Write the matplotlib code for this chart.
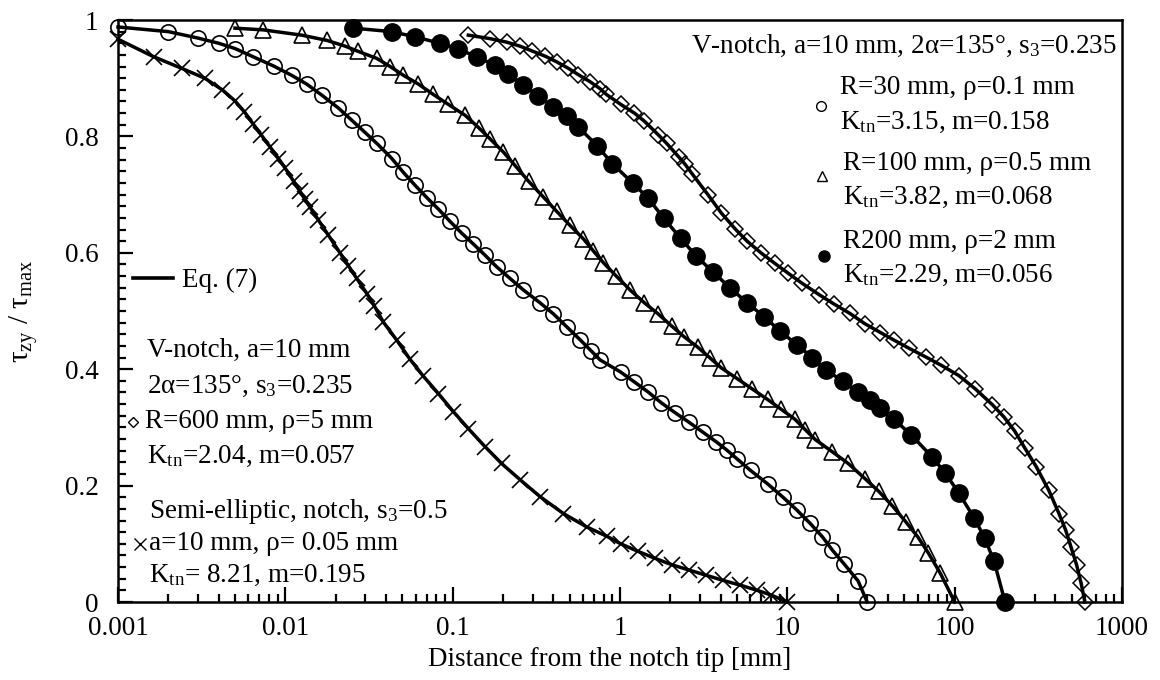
import matplotlib

matplotlib.use("Agg")

import matplotlib.pyplot as plt
from matplotlib.ticker import FixedLocator, NullFormatter

plt.rcParams["font.family"] = ["Liberation Serif", "DejaVu Serif"]
plt.rcParams["mathtext.fontset"] = "custom"
plt.rcParams["mathtext.rm"] = "Liberation Serif"
plt.rcParams["mathtext.default"] = "regular"

FS = 19.5

# Semi-elliptic notch, a=10 mm, rho=0.05 mm (crosses)
semi_x = [0.001, 0.00163, 0.0024, 0.0033, 0.0042, 0.0050, 0.0057, 0.0064, 0.0072,
          0.0081, 0.0091, 0.0100, 0.0112, 0.0122, 0.0131, 0.0140, 0.0157, 0.0181,
          0.0212, 0.0238, 0.0267, 0.0307, 0.0340, 0.0385, 0.0463, 0.0556, 0.0668,
          0.0822, 0.101, 0.124, 0.156, 0.196, 0.253, 0.333, 0.459, 0.632, 0.834,
          1.01, 1.28, 1.62, 2.04, 2.58, 3.27, 4.14, 5.23, 6.61, 8.0, 10.0]
semi_y = [0.967, 0.937, 0.917, 0.900, 0.880, 0.861, 0.842, 0.822, 0.802,
          0.782, 0.762, 0.745, 0.723, 0.706, 0.692, 0.679, 0.657, 0.630,
          0.600, 0.578, 0.556, 0.530, 0.509, 0.481, 0.450, 0.417, 0.388,
          0.358, 0.327, 0.298, 0.267, 0.238, 0.210, 0.181, 0.152, 0.129, 0.113,
          0.100, 0.087, 0.075, 0.064, 0.055, 0.046, 0.037, 0.029, 0.020, 0.012, 0.0]

# V-notch R=30 mm, rho=0.1 mm (open circles)
r30_x = [0.001, 0.002, 0.0030, 0.0040, 0.0050, 0.0064, 0.0085, 0.0109, 0.0134,
         0.0165, 0.0207, 0.0249, 0.0299, 0.0352, 0.0433, 0.0508, 0.0596, 0.0700,
         0.0822, 0.0964, 0.113, 0.133, 0.156, 0.183, 0.220, 0.265, 0.333, 0.400,
         0.48, 0.58, 0.67, 0.76, 1.01, 1.22, 1.47, 1.77, 2.14, 2.58, 3.12, 3.77,
         4.35, 5.0, 6.03, 7.62, 9.42, 11.4, 13.7, 16.2, 18.6, 21.9, 26.5, 30.0]
r30_y = [0.988, 0.980, 0.969, 0.960, 0.951, 0.937, 0.921, 0.905, 0.890,
         0.871, 0.849, 0.828, 0.807, 0.788, 0.762, 0.738, 0.716, 0.695,
         0.675, 0.654, 0.634, 0.615, 0.596, 0.576, 0.556, 0.536, 0.514, 0.495,
         0.473, 0.450, 0.432, 0.416, 0.395, 0.378, 0.361, 0.342, 0.325, 0.309, 0.292, 0.275,
         0.261, 0.246, 0.226, 0.203, 0.180, 0.158, 0.135, 0.112, 0.089, 0.065, 0.036, 0.0]

# V-notch R=100 mm, rho=0.5 mm (open triangles)
r100_x = [0.0050, 0.0074, 0.0125, 0.0177, 0.0228, 0.0273, 0.0352, 0.0423, 0.0508,
          0.0623, 0.0767, 0.0942, 0.119, 0.143, 0.167, 0.201, 0.236, 0.284, 0.348,
          0.419, 0.503, 0.604, 0.694, 0.796, 0.95, 1.15, 1.40, 1.69, 2.04, 2.41,
          2.91, 3.43, 4.04, 5.0, 6.17, 7.62, 9.2, 11.1, 12.8, 14.7, 18.6, 23.1,
          29.1, 35.2, 42.5, 51.3, 60.5, 69.7, 82.2, 100.0]
r100_y = [0.986, 0.983, 0.974, 0.965, 0.955, 0.946, 0.934, 0.920, 0.905,
          0.890, 0.872, 0.855, 0.836, 0.815, 0.796, 0.773, 0.750, 0.723, 0.696,
          0.671, 0.647, 0.624, 0.603, 0.583, 0.560, 0.536, 0.514, 0.495, 0.474, 0.456,
          0.438, 0.420, 0.402, 0.384, 0.366, 0.348, 0.331, 0.314, 0.296, 0.279, 0.258, 0.238,
          0.212, 0.190, 0.165, 0.137, 0.111, 0.084, 0.049, 0.0]

# V-notch R=200 mm, rho=2 mm (filled circles)
r200_x = [0.0255, 0.0432, 0.0596, 0.0841, 0.108, 0.139, 0.179, 0.215, 0.265,
          0.325, 0.400, 0.48, 0.564, 0.73, 0.90, 1.19, 1.47, 1.82, 2.30,
          2.84, 3.59, 4.54, 5.75, 7.28, 9.0, 11.4, 14.1, 17.0, 21.5, 26.5, 31.0,
          36.0, 43.4, 55.0, 72.9, 88.1, 106.0, 131.0, 151.0, 172.0, 200.0]
r200_y = [0.986, 0.980, 0.971, 0.960, 0.950, 0.937, 0.922, 0.907, 0.888,
          0.870, 0.851, 0.835, 0.816, 0.784, 0.753, 0.720, 0.694, 0.660, 0.625,
          0.595, 0.567, 0.540, 0.514, 0.490, 0.466, 0.442, 0.420, 0.399, 0.379, 0.361, 0.347,
          0.333, 0.314, 0.287, 0.250, 0.221, 0.187, 0.144, 0.110, 0.070, 0.0]

# V-notch R=600 mm, rho=5 mm (open diamonds)
r600_x = [0.124, 0.167, 0.210, 0.253, 0.297, 0.356, 0.419, 0.491, 0.564, 0.662,
          0.760, 0.83, 1.01, 1.22, 1.40, 1.69, 1.90, 2.24, 2.45, 2.71, 3.35, 4.04,
          4.88, 5.75, 6.95, 8.4, 10.1, 12.2, 15.5, 19.0, 23.6, 29.1, 36.0, 43.4,
          53.3, 67.2, 82.8, 106.0, 133.0, 168.0, 197.0, 228.0, 262.0, 308.0, 365.0,
          420.0, 460.0, 495.0, 535.0, 570.0, 600.0]
r600_y = [0.974, 0.968, 0.962, 0.955, 0.947, 0.938, 0.928, 0.917, 0.906, 0.894,
          0.882, 0.872, 0.855, 0.840, 0.826, 0.803, 0.788, 0.765, 0.752, 0.735, 0.700, 0.668,
          0.641, 0.620, 0.600, 0.582, 0.565, 0.548, 0.528, 0.512, 0.496, 0.478, 0.463, 0.450,
          0.436, 0.421, 0.407, 0.389, 0.366, 0.339, 0.318, 0.294, 0.265, 0.232, 0.192,
          0.152, 0.124, 0.095, 0.064, 0.032, 0.0]

x_ticks = [0.001, 0.01, 0.1, 1, 10, 100, 1000]
x_tick_labels = ["0.001", "0.01", "0.1", "1", "10", "100", "1000"]
y_ticks = [0, 0.2, 0.4, 0.6, 0.8, 1.0]
y_tick_labels = ["0", "0.2", "0.4", "0.6", "0.8", "1"]

W, H = 1160, 680
fig = plt.figure(figsize=(W / 100, H / 100), dpi=100)
ax = fig.add_axes([118 / W, (H - 602) / H, 1004 / W, 582 / H])

series = [
    (semi_x, semi_y, dict(marker="x", ms=11.5, mew=1.2, mfc="none")),
    (r30_x, r30_y, dict(marker="o", ms=11, mew=1.2, mfc="none")),
    (r100_x, r100_y, dict(marker="^", ms=11.5, mew=1.2, mfc="none")),
    (r200_x, r200_y, dict(marker="o", ms=12.5, mew=1.0, mfc="black")),
    (r600_x, r600_y, dict(marker="D", ms=8.5, mew=1.1, mfc="none")),
]
for xs, ys, style in series:
    ax.plot(xs, ys, ls="none", color="black", zorder=2, clip_on=False, **style)
    ax.plot(xs, ys, color="black", lw=2.5, zorder=3, clip_on=False)

ax.set_xscale("log")
ax.set_xlim(0.001, 1000)
ax.set_ylim(0, 1)

ax.xaxis.set_major_locator(FixedLocator(x_ticks))
ax.set_xticklabels(x_tick_labels)
ax.xaxis.set_minor_locator(FixedLocator(
    [m * 10.0 ** e for e in range(-3, 3) for m in range(2, 10)]))
ax.xaxis.set_minor_formatter(NullFormatter())
ax.set_yticks(y_ticks)
ax.set_yticklabels(y_tick_labels)
ax.set_yticks([i * 0.02 for i in range(51)], minor=True)

ax.tick_params(which="both", direction="in", top=False, right=False, width=1.6)
ax.tick_params(which="major", length=11, labelsize=FS)
ax.tick_params(which="minor", length=5.5)
ax.tick_params(axis="x", pad=10)
ax.tick_params(axis="y", pad=14)
for sp in ax.spines.values():
    sp.set_linewidth(1.8)

fig.text(24 / W, (H - 311) / H, r"$\tau_{zy}$ / $\tau_{max}$", rotation=90,
         ha="center", va="center", fontsize=21)
fig.text(610 / W, (H - 660) / H, "Distance from the notch tip [mm]",
         ha="center", va="center", fontsize=FS)


def fx(px):
    return (px - 118) / 1004


def fy(py):
    return (602 - py) / 582


tr = ax.transAxes
txt = dict(transform=tr, fontsize=FS, va="center")

# right-hand block
ax.text(fx(1117), fy(46), "V-notch, a=10 mm, 2α=135°, s$_3$=0.235", ha="right", **txt)
ax.text(fx(840), fy(88), "R=30 mm, ρ=0.1 mm", ha="left", **txt)
ax.text(fx(840), fy(122), "K$_{tn}$=3.15, m=0.158", ha="left", **txt)
ax.text(fx(843), fy(163), "R=100 mm, ρ=0.5 mm", ha="left", **txt)
ax.text(fx(843), fy(197), "K$_{tn}$=3.82, m=0.068", ha="left", **txt)
ax.text(fx(843), fy(242), "R200 mm, ρ=2 mm", ha="left", **txt)
ax.text(fx(843), fy(275), "K$_{tn}$=2.29, m=0.056", ha="left", **txt)
ax.plot([fx(821)], [fy(106)], "o", ms=7, mfc="none", mec="black", mew=1.0, transform=tr)
ax.plot([fx(822)], [fy(176)], "^", ms=7, mfc="none", mec="black", mew=1.0, transform=tr)
ax.plot([fx(824)], [fy(256)], "o", ms=8, color="black", transform=tr)

# left-hand block
ax.plot([fx(133), fx(173)], [fy(278), fy(278)], color="black", lw=2.6, transform=tr)
ax.text(fx(182), fy(280), "Eq. (7)", ha="left", **txt)
ax.text(fx(147), fy(350), "V-notch, a=10 mm", ha="left", **txt)
ax.text(fx(147), fy(386), "2α=135°, s$_3$=0.235", ha="left", **txt)
ax.plot([fx(133)], [fy(422)], "D", ms=5.5, mfc="none", mec="black", mew=1.0, transform=tr)
ax.text(fx(145), fy(422), "R=600 mm, ρ=5 mm", ha="left", **txt)
ax.text(fx(147), fy(456), "K$_{tn}$=2.04, m=0.057", ha="left", **txt)
ax.text(fx(149), fy(512), "Semi-elliptic, notch, s$_3$=0.5", ha="left", **txt)
ax.plot([fx(140)], [fy(544)], "x", ms=8, mec="black", mew=1.0, transform=tr)
ax.text(fx(149), fy(544), "a=10 mm, ρ= 0.05 mm", ha="left", **txt)
ax.text(fx(149), fy(575), "K$_{tn}$= 8.21, m=0.195", ha="left", **txt)

fig.savefig("out.png", dpi=100)
